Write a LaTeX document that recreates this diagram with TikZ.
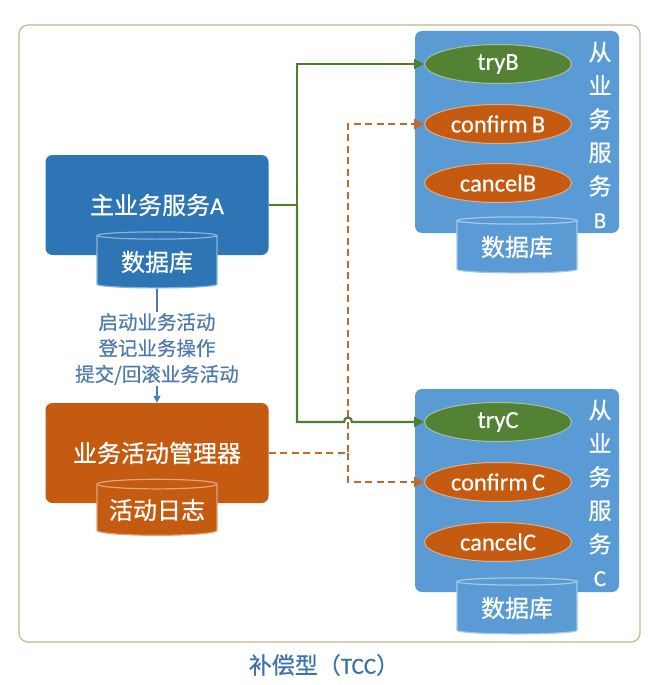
\documentclass[tikz,border=0pt]{standalone}
\usepackage{fontspec}
\setmainfont{Carlito}
\newfontfamily\cjk[FakeBold=0.6]{Noto Sans CJK SC}
\newfontfamily\lat[FakeBold=0.4]{Carlito}
\usetikzlibrary{shapes.geometric,arrows.meta}
\definecolor{aBlue}{HTML}{2E75B6}
\definecolor{lBlue}{HTML}{5B9BD5}
\definecolor{orng}{HTML}{C55A11}
\definecolor{grnE}{HTML}{548235}
\definecolor{grnL}{HTML}{4E7F2E}
\definecolor{dashC}{HTML}{C2692E}
\definecolor{frameC}{HTML}{C8B48E}
\definecolor{lblC}{HTML}{4F7AAE}
\definecolor{ttlC}{HTML}{3D72AC}
\begin{document}
\begin{tikzpicture}[x=1pt,y=-1pt,
  bigbox/.style={rounded corners=7pt, inner sep=0pt, text=white,
    font=\cjk\fontsize{24}{28}\selectfont},
  svcbox/.style={rounded corners=7pt, fill=lBlue, minimum width=204pt, minimum height=202pt, inner sep=0pt},
  db/.style={cylinder, shape border rotate=90, aspect=0.1, minimum width=120pt,
    minimum height=56pt, inner sep=0pt, line width=1.2pt, text=white,
    font=\cjk\fontsize{24}{28}\selectfont},
  op/.style={ellipse, minimum width=147pt, minimum height=39pt, inner sep=0pt,
    line width=1pt, text=white, font=\lat\fontsize{24.5}{27}\selectfont},
  vtext/.style={align=center, text=white, font=\cjk\fontsize{23}{33.5}\selectfont},
  gline/.style={draw=grnL, line width=2.2pt},
  oline/.style={draw=dashC, line width=2.5pt, dash pattern=on 7pt off 4.5pt},
  gtip/.style={-{Triangle[length=10pt,width=10pt]}},
]
\useasboundingbox (0,0) rectangle (650,685);
\draw[frameC, line width=1.2pt, rounded corners=9pt] (19,25) rectangle (640,642);

% left side
\node[bigbox, fill=aBlue, minimum width=223pt, minimum height=100pt] (A) at (157,205) {主业务服务{\lat A}};
\node[db, draw=aBlue!55!white, cylinder uses custom fill, cylinder body fill=aBlue, cylinder end fill=aBlue] (dbA) at (157,262) {数据库};
\node[bigbox, fill=orng, minimum width=223pt, minimum height=100pt] (mgr) at (157,453) {业务活动管理器};
\node[db, draw=orng!55!white, cylinder uses custom fill, cylinder body fill=orng, cylinder end fill=orng] (log) at (157,510) {活动日志};

\draw[draw=lblC, line width=1.5pt, -{Triangle[length=7pt,width=7pt]}] (dbA.south) -- (mgr.north);
\node[fill=white, inner sep=1pt, align=center, text=lblC, font=\cjk\fontsize{19.5}{26}\selectfont] (lbl) at (157,349)
  {启动业务活动\\登记业务操作\\提交/回滚业务活动};

% service B
\node[svcbox] (B) at (517,132) {};
\node[op, fill=grnE, draw=grnE!50!white] (tryB) at (498,64) {tryB};
\node[op, fill=orng, draw=orng!50!white] (confirmB) at (498,124) {confirm\,B};
\node[op, fill=orng, draw=orng!50!white] (cancelB) at (498,183) {cancelB};
\node[vtext] (vB) at (600,135) {从\\业\\务\\服\\务\\{\lat B}};
\node[db, draw=lBlue!55!white, cylinder uses custom fill, cylinder body fill=lBlue, cylinder end fill=lBlue] (dbB) at (517,247) {数据库};

% service C
\node[svcbox, minimum height=203pt] (C) at (517,490.5) {};
\node[op, fill=grnE, draw=grnE!50!white] (tryC) at (498,422) {tryC};
\node[op, fill=orng, draw=orng!50!white] (confirmC) at (498,482) {confirm\,C};
\node[op, fill=orng, draw=orng!50!white] (cancelC) at (498,542) {cancelC};
\node[vtext] (vC) at (600,493) {从\\业\\务\\服\\务\\{\lat C}};
\node[db, draw=lBlue!55!white, cylinder uses custom fill, cylinder body fill=lBlue, cylinder end fill=lBlue] (dbC) at (517,608) {数据库};

% connectors
\coordinate (gx) at (297,0);
\coordinate (ox) at (348,0);
\draw[oline, -{Triangle[length=10pt,width=10pt]}] (mgr.east) -- (mgr.east -| ox) |- (confirmB.west);
\draw[oline, -{Triangle[length=10pt,width=10pt]}] (mgr.east -| ox) |- (confirmC.west);
\draw[gline, gtip] (A.east) -- (A.east -| gx) |- (tryB.west);
\coordinate (hopL) at (344,422);
\coordinate (hopR) at (352,422);
\coordinate (hopc1) at (344,416);
\coordinate (hopc2) at (352,416);
\draw[gline, gtip] (A.east -| gx) |- (hopL) .. controls (hopc1) and (hopc2) .. (hopR) -- (tryC.west);

% title
\node[text=ttlC, font=\cjk\fontsize{23}{26}\selectfont] (title) at (324,665) {补偿型（{\lat TCC}）};
\end{tikzpicture}
\end{document}
